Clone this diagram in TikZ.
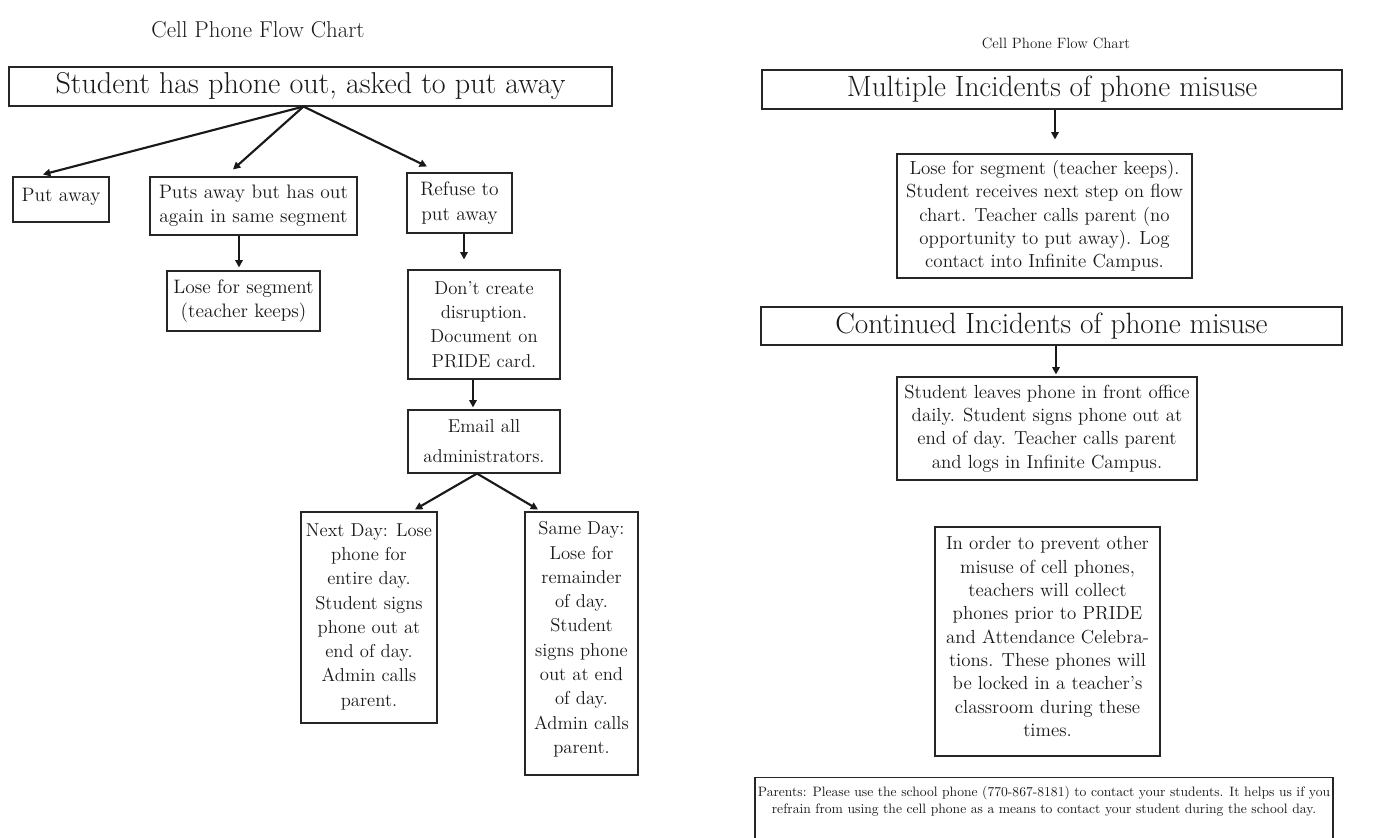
\documentclass[tikz,border=0pt]{standalone}
\usetikzlibrary{arrows.meta,calc}
\begin{document}
\begin{tikzpicture}[x=0.75pt,y=-0.75pt,
  box/.style={draw=black!85,line width=0.8pt,inner sep=0pt,align=center,
    font=\fontsize{14}{18.2}\selectfont,text=black!90},
  lbox/.style={box,font=\fontsize{14.6}{18.2}\selectfont},
  rbox/.style={box,font=\fontsize{14.2}{17.5}\selectfont},
  arr/.style={line width=1.6pt,draw=black!90,-{Triangle[length=5.5pt,width=5.5pt]}},
  ttl/.style={text=black!90,inner sep=0pt}]
\useasboundingbox (0,0) rectangle (1375,838);
\fill[white] (0,0) rectangle (1375,838);

% ---------------- left chart ----------------
\node[ttl,font=\fontsize{17.2}{20}\selectfont] (t1) at (258,30) {Cell Phone Flow Chart};
\node[box,minimum width=452.25pt,minimum height=29.25pt,font=\fontsize{22.6}{26}\selectfont] (top) at (310.5,86.5) {Student has phone out, asked to put away};
\node[lbox,minimum width=72pt,minimum height=33.75pt] (put) at (61,199.5) {Put away\\[-11.4pt]\mbox{}};
\node[lbox,minimum width=155.25pt,minimum height=43.5pt] (puts) at (253.5,206) {Puts away but has out\\again in same segment};
\node[lbox,minimum width=78.75pt,minimum height=45pt] (refuse) at (459.5,203) {Refuse to\\put away};
\node[lbox,minimum width=114.75pt,minimum height=45pt] (lose) at (243.5,301) {Lose for segment\\(teacher keeps)};
\node[box,minimum width=114pt,minimum height=81.75pt] (dont) at (484,324.5) {Don't create\\disruption.\\Document on\\PRIDE card.};
\node[box,minimum width=114pt,minimum height=47.25pt,font=\fontsize{14}{22.5}\selectfont] (email) at (484,441.5) {Email all\\administrators.};
\node[box,minimum width=102pt,minimum height=158.25pt] (next) at (369,617.5) {Next Day: Lose\\phone for\\entire day.\\Student signs\\phone out at\\end of day.\\Admin calls\\parent.\\[-14.2pt]\mbox{}};
\node[box,minimum width=84.75pt,minimum height=197.25pt] (same) at (581.5,643.5) {Same Day:\\Lose for\\remainder\\of day.\\Student\\signs phone\\out at end\\of day.\\Admin calls\\parent.\\[-9.2pt]\mbox{}};

\draw[arr] ($(top.south)+(-7,0)$) -- ($(put.north)+(-18,-2)$);
\draw[arr] ($(top.south)+(-7,0)$) -- ($(puts.north)+(-20.5,-7)$);
\draw[arr] ($(top.south)+(-7,0)$) -- ($(refuse.north)+(-32.5,-6)$);
\draw[arr] ($(puts.south)+(-14.5,0)$) -- ($(lose.north)+(-4.5,-3)$);
\draw[arr] ($(refuse.south)+(4.5,0)$) -- ($(dont.north)+(-20,-10)$);
\draw[arr] ($(dont.south)+(-11,0)$) -- ($(email.north)+(-11,-2)$);
\draw[arr] ($(email.south)+(-7,0)$) -- ($(next.north)+(46,-2)$);
\draw[arr] ($(email.south)+(-7,0)$) -- ($(same.north)+(-43.5,-2)$);

% ---------------- right chart ----------------
\node[ttl,font=\fontsize{11.2}{14}\selectfont] (t2) at (1056,43) {Cell Phone Flow Chart};
\node[box,minimum width=435pt,minimum height=29.25pt,font=\fontsize{22}{26}\selectfont] (multi) at (1052,89.5) {Multiple Incidents of phone misuse};
\node[rbox,minimum width=221.25pt,minimum height=93pt] (lose2) at (1044.5,216) {Lose for segment (teacher keeps).\\Student receives next step on flow\\chart. Teacher calls parent (no\\opportunity to put away). Log\\contact into Infinite Campus.};
\node[box,minimum width=435.75pt,minimum height=28.5pt,font=\fontsize{22}{26}\selectfont] (cont) at (1051.5,326) {Continued Incidents of phone misuse};
\node[rbox,minimum width=225pt,minimum height=77.25pt] (leaves) at (1047,428.5) {Student leaves phone in front office\\daily. Student signs phone out at\\end of day. Teacher calls parent\\and logs in Infinite Campus.};
\node[rbox,minimum width=168.75pt,minimum height=171.75pt] (inorder) at (1047.5,641.5) {In order to prevent other\\misuse of cell phones,\\teachers will collect\\phones prior to PRIDE\\and Attendance Celebra-\\tions. These phones will\\be locked in a teacher's\\classroom during these\\times.\\[-10pt]\mbox{}};
\node[box,minimum width=433.5pt,minimum height=48pt,anchor=north,font=\fontsize{10.2}{12.75}\selectfont] (parents) at (1044,777) {\rule{0pt}{14pt}Parents: Please use the school phone (770-867-8181) to contact your students. It helps us if you\\refrain from using the cell phone as a means to contact your student during the school day.\\[8pt]};

\draw[arr] ($(multi.south)+(3,0)$) -- ($(lose2.north)+(10.5,-14)$);
\draw[arr] ($(cont.south)+(4.5,0)$) -- ($(leaves.north)+(9,-2)$);
\end{tikzpicture}
\end{document}
